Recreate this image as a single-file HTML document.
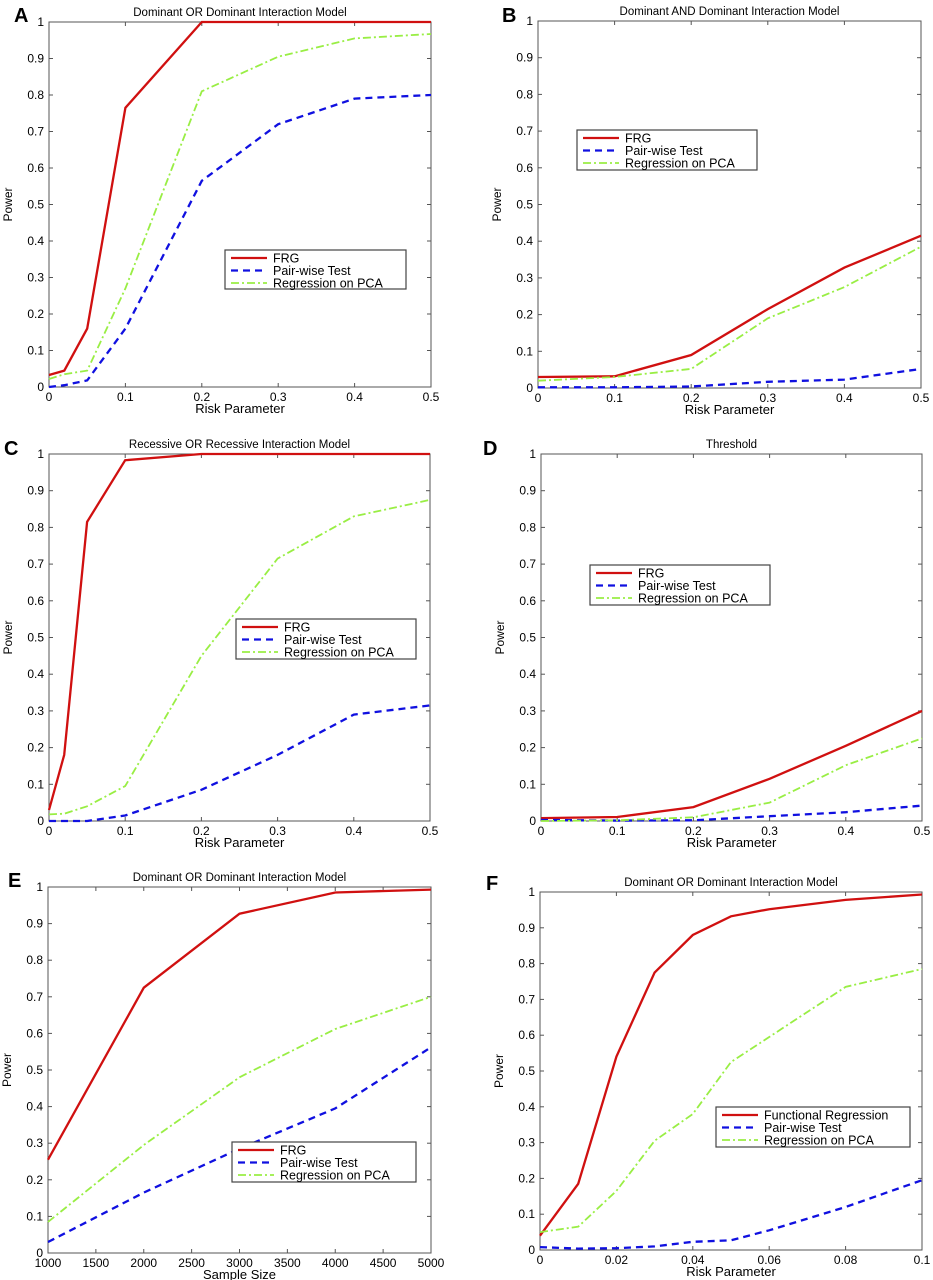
<!DOCTYPE html>
<html><head><meta charset="utf-8">
<style>
body{margin:0;background:#fff;}
svg{display:block;font-family:"Liberation Sans",sans-serif;}
</style></head>
<body>
<svg id="fig" width="933" height="1280" viewBox="0 0 933 1280"></svg>
<script>
// Panel A data
const xA = [0,0.02,0.05,0.1,0.2,0.3,0.4,0.5];
const frgA = [0.033,0.045,0.16,0.765,1,1,1,1];
const pairA = [0,0.005,0.018,0.16,0.565,0.72,0.79,0.80];
const pcaA = [0.022,0.035,0.045,0.27,0.81,0.905,0.955,0.967];
// Panel B data
const xB = [0,0.1,0.2,0.3,0.4,0.5];
const frgB = [0.03,0.032,0.09,0.215,0.328,0.415];
const pairB = [0.002,0.002,0.004,0.017,0.023,0.052];
const pcaB = [0.02,0.03,0.052,0.19,0.275,0.385];
// Panel C data
const xC = [0,0.02,0.05,0.1,0.2,0.3,0.4,0.5];
const frgC = [0.03,0.18,0.815,0.983,1,1,1,1];
const pairC = [0,0,0,0.015,0.085,0.18,0.29,0.315];
const pcaC = [0.018,0.02,0.04,0.095,0.45,0.715,0.83,0.875];
// Panel D data
const xD = [0,0.1,0.2,0.3,0.4,0.5];
const frgD = [0.008,0.011,0.038,0.115,0.205,0.3];
const pairD = [0.003,0.001,0.002,0.013,0.024,0.042];
const pcaD = [0,0.002,0.01,0.05,0.152,0.225];
// Panel E data
const xE = [1000,2000,3000,4000,5000];
const frgE = [0.255,0.725,0.927,0.985,0.993];
const pairE = [0.03,0.165,0.285,0.395,0.562];
const pcaE = [0.085,0.295,0.48,0.612,0.7];
// Panel F data
const xF = [0,0.01,0.02,0.03,0.04,0.05,0.06,0.08,0.1];
const frgF = [0.04,0.185,0.54,0.775,0.88,0.932,0.952,0.978,0.993];
const pairF = [0.008,0.004,0.005,0.01,0.023,0.027,0.055,0.12,0.195];
const pcaF = [0.05,0.065,0.165,0.305,0.38,0.525,0.595,0.735,0.785];
// tick labels
const yTicks = [0,0.1,0.2,0.3,0.4,0.5,0.6,0.7,0.8,0.9,1];
const yTickLabels = ["0","0.1","0.2","0.3","0.4","0.5","0.6","0.7","0.8","0.9","1"];
const xTicksRisk = [0,0.1,0.2,0.3,0.4,0.5];
const xTickLabelsRisk = ["0","0.1","0.2","0.3","0.4","0.5"];
const xTicksSize = [1000,1500,2000,2500,3000,3500,4000,4500,5000];
const xTickLabelsSize = ["1000","1500","2000","2500","3000","3500","4000","4500","5000"];
const xTicksF = [0,0.02,0.04,0.06,0.08,0.1];
const xTickLabelsF = ["0","0.02","0.04","0.06","0.08","0.1"];

const NS="http://www.w3.org/2000/svg";
const fig=document.getElementById('fig');
function mk(tag,attrs,parent){const e=document.createElementNS(NS,tag);for(const k in attrs)e.setAttribute(k,attrs[k]);(parent||fig).appendChild(e);return e;}

const panels=[
 {id:'a',letter:'A',lx:14,ly:22,title:'Dominant OR Dominant Interaction Model',L:49,R:431,T:22,B:387,x:xA,s:[frgA,pairA,pcaA],xt:xTicksRisk,xl:xTickLabelsRisk,xmin:0,xmax:0.5,xlab:'Risk Parameter',leg:[225,250,181,39],names:['FRG','Pair-wise Test','Regression on PCA']},
 {id:'b',letter:'B',lx:502,ly:22,title:'Dominant AND Dominant Interaction Model',L:538,R:921,T:21,B:388,x:xB,s:[frgB,pairB,pcaB],xt:xTicksRisk,xl:xTickLabelsRisk,xmin:0,xmax:0.5,xlab:'Risk Parameter',leg:[577,130,180,40],names:['FRG','Pair-wise Test','Regression on PCA']},
 {id:'c',letter:'C',lx:4,ly:455,title:'Recessive OR Recessive Interaction Model',L:49,R:430,T:454,B:821,x:xC,s:[frgC,pairC,pcaC],xt:xTicksRisk,xl:xTickLabelsRisk,xmin:0,xmax:0.5,xlab:'Risk Parameter',leg:[236,619,180,40],names:['FRG','Pair-wise Test','Regression on PCA']},
 {id:'d',letter:'D',lx:483,ly:455,title:'Threshold',L:541,R:922,T:454,B:821,x:xD,s:[frgD,pairD,pcaD],xt:xTicksRisk,xl:xTickLabelsRisk,xmin:0,xmax:0.5,xlab:'Risk Parameter',leg:[590,565,180,40],names:['FRG','Pair-wise Test','Regression on PCA']},
 {id:'e',letter:'E',lx:8,ly:887,title:'Dominant OR Dominant Interaction Model',L:48,R:431,T:887,B:1253,x:xE,s:[frgE,pairE,pcaE],xt:xTicksSize,xl:xTickLabelsSize,xmin:1000,xmax:5000,xlab:'Sample Size',leg:[232,1142,184,40],names:['FRG','Pair-wise Test','Regression on PCA']},
 {id:'f',letter:'F',lx:486,ly:890,title:'Dominant OR Dominant Interaction Model',L:540,R:922,T:892,B:1250,x:xF,s:[frgF,pairF,pcaF],xt:xTicksF,xl:xTickLabelsF,xmin:0,xmax:0.1,xlab:'Risk Parameter',leg:[716,1107,194,40],names:['Functional Regression','Pair-wise Test','Regression on PCA']}
];
const styles=[
 {stroke:'#d01010',dash:'',w:2.3,key:'frg'},
 {stroke:'#1010e0',dash:'7,5',w:2.3,key:'pair'},
 {stroke:'#99ee44',dash:'8,3,2,3',w:1.8,key:'pca'}
];

panels.forEach(p=>{
 const g=mk('g',{});
 
 
 const sx=v=>p.L+(v-p.xmin)/(p.xmax-p.xmin)*(p.R-p.L);
 const sy=v=>p.B-v*(p.B-p.T);
 const lt=mk('text',{x:p.lx,y:p.ly,'font-size':20,'font-weight':'bold',fill:'#000'},g);
 lt.textContent=p.letter;
 
 
 const tt=mk('text',{x:(p.L+p.R)/2,y:p.T-6,'font-size':11.5,'text-anchor':'middle',fill:'#000'},g);
 tt.textContent=p.title;
 
 
 const box=mk('rect',{x:p.L,y:p.T,width:p.R-p.L,height:p.B-p.T,fill:'#fff',stroke:'#555','stroke-width':1},g);
 
 
 yTicks.forEach((v,i)=>{
  const y=sy(v);
  mk('line',{x1:p.L,x2:p.L+4,y1:y,y2:y,stroke:'#555'},g);
  mk('line',{x1:p.R,x2:p.R-4,y1:y,y2:y,stroke:'#555'},g);
  const t=mk('text',{x:p.L-5,y:y+4,'font-size':12,'text-anchor':'end',fill:'#000'},g);
  t.textContent=yTickLabels[i];
  
  
 });
 p.xt.forEach((v,i)=>{
  const x=sx(v);
  mk('line',{x1:x,x2:x,y1:p.B,y2:p.B-4,stroke:'#555'},g);
  mk('line',{x1:x,x2:x,y1:p.T,y2:p.T+4,stroke:'#555'},g);
  const t=mk('text',{x:x,y:p.B+14,'font-size':12,'text-anchor':'middle',fill:'#000'},g);
  t.textContent=p.xl[i];
  
  
 });
 const xl=mk('text',{x:(p.L+p.R)/2,y:p.B+26,'font-size':13,'text-anchor':'middle',fill:'#000'},g);
 xl.textContent=p.xlab;
 
 
 const cy=(p.T+p.B)/2;
 const yl=mk('text',{x:p.L-37,y:cy,'font-size':12,'text-anchor':'middle',fill:'#000',transform:`rotate(-90 ${p.L-37} ${cy})`},g);
 yl.textContent='Power';
 
 
 p.s.forEach((vals,si)=>{
  const st=styles[si];
  const pts=vals.map((v,i)=>sx(p.x[i]).toFixed(1)+','+sy(v).toFixed(1)).join(' ');
  const pl=mk('polyline',{points:pts,fill:'none',stroke:st.stroke,'stroke-width':st.w,'stroke-dasharray':st.dash},g);
  
  
 });
 const [lx,ly,lw,lh]=p.leg;
 const lg=mk('g',{},g);
 
 
 mk('rect',{x:lx,y:ly,width:lw,height:lh,fill:'#fff',stroke:'#444','stroke-width':1.2},lg);
 p.names.forEach((n,i)=>{
  const st=styles[i];
  const yy=ly+8+i*12.5;
  mk('line',{x1:lx+6,x2:lx+42,y1:yy,y2:yy,stroke:st.stroke,'stroke-width':st.w,'stroke-dasharray':st.dash},lg);
  const t=mk('text',{x:lx+48,y:yy+4.5,'font-size':12.5,fill:'#000'},lg);
  t.textContent=n;
  
  
 });
});
</script>
</body></html>
